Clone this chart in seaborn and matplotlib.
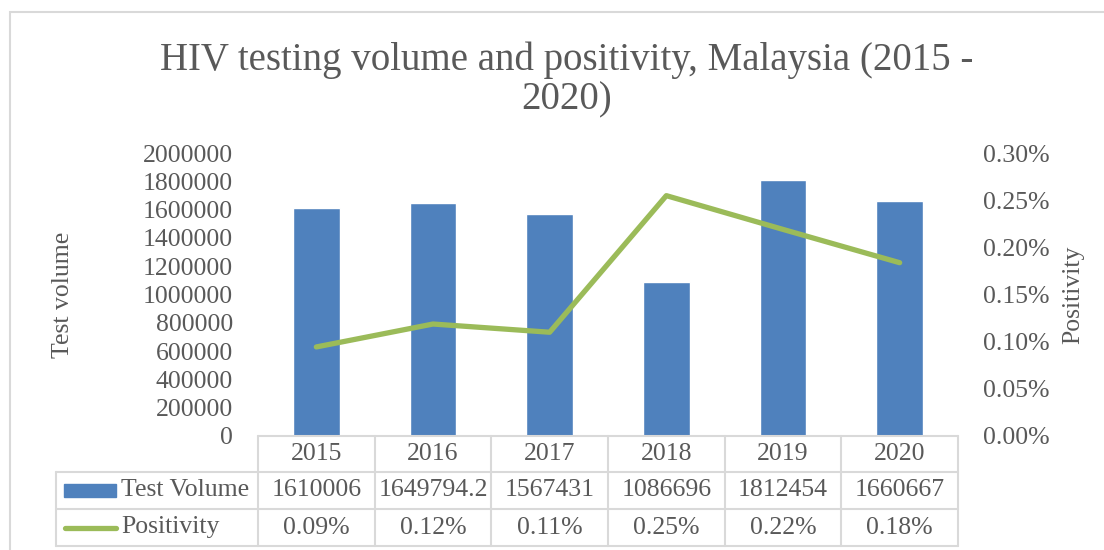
import numpy as np
import matplotlib.pyplot as plt
import matplotlib.transforms as mtransforms
from matplotlib.patches import Rectangle
from matplotlib.lines import Line2D
from matplotlib.ticker import FuncFormatter
import seaborn as sns

# dane
lata = ['2015', '2016', '2017', '2018', '2019', '2020']
test_volume = [1610006, 1649794.2, 1567431, 1086696, 1812454, 1660667]
positivity = [0.000944, 0.001187, 0.001100, 0.002548, 0.002190, 0.001837]

kolor_slupki = '#4F81BD'
kolor_linia = '#9BBB59'
kolor_tekst = '#595959'
kolor_siatka = '#D9D9D9'
fs = 18.5

sns.set_style('white')
plt.rcParams['font.family'] = ['Liberation Serif', 'DejaVu Serif']

W, H = 1104, 550
fig = plt.figure(figsize=(W / 100, H / 100), dpi=100)

def fx(px):
    return px / W

def fy(py):
    return 1 - py / H

ax = fig.add_axes([fx(258), fy(436), fx(958) - fx(258), fy(153) - fy(436)])

# slupki
sns.barplot(x=lata, y=test_volume, color=kolor_slupki, width=0.4, saturation=1, ax=ax)
ax.set_xlim(-0.5, len(lata) - 0.5)
ax.set_ylim(0, 2000000)
ax.set_yticks(np.arange(0, 2000001, 200000))
ax.yaxis.set_major_formatter(FuncFormatter(lambda v, p: f'{int(v)}'))
ax.tick_params(axis='y', length=0, pad=18, labelsize=fs, labelcolor=kolor_tekst)
ax.set_xticks([])
ax.set_xlabel('')
ax.set_ylabel('')
for s in ax.spines.values():
    s.set_visible(False)

# linia
ax2 = ax.twinx()
sns.lineplot(x=np.arange(len(lata)), y=positivity, color=kolor_linia, linewidth=3.8,
             solid_capstyle='round', ax=ax2)
ax2.set_ylim(0, 0.003)
ax2.set_yticks(np.arange(0, 0.00301, 0.0005))
ax2.yaxis.set_major_formatter(FuncFormatter(lambda v, p: f'{v:.2%}'))
ax2.tick_params(axis='y', length=0, pad=18, labelsize=fs, labelcolor=kolor_tekst)
ax2.set_ylabel('')
for s in ax2.spines.values():
    s.set_visible(False)
ax.set_xlim(-0.5, len(lata) - 0.5)

# tytul i opisy osi
fig.text(fx(567), fy(60), 'HIV testing volume and positivity, Malaysia (2015 -',
         ha='center', va='center', fontsize=28, color=kolor_tekst)
fig.text(fx(567), fy(100), '2020)', ha='center', va='center', fontsize=28, color=kolor_tekst)
fig.text(fx(63), fy(295), 'Test volume', rotation=90, ha='center', va='center',
         fontsize=fs, color=kolor_tekst)
fig.text(fx(1073), fy(295), 'Positivity', rotation=90, ha='center', va='center',
         fontsize=fs, color=kolor_tekst)

# ramka wykresu
fig.patches.append(Rectangle((fx(10), fy(560)), fx(1110), fy(12) - fy(560),
                             transform=fig.transFigure, fill=False,
                             edgecolor=kolor_siatka, linewidth=1.5))

# tabela danych
tr = mtransforms.blended_transform_factory(ax.transData, fig.transFigure)
wiersze = [436, 472, 509, 546]
n = len(lata)
lw = 1.5
# linie poziome
fig.add_artist(Line2D([-0.5, n - 0.5], [fy(wiersze[0])] * 2, transform=tr, color=kolor_siatka, lw=lw))
for yy in wiersze[1:]:
    fig.add_artist(Line2D([fx(56), fx(958)], [fy(yy)] * 2, transform=fig.transFigure,
                          color=kolor_siatka, lw=lw))
# linie pionowe
for i in range(n + 1):
    fig.add_artist(Line2D([i - 0.5, i - 0.5], [fy(wiersze[0]), fy(wiersze[3])], transform=tr,
                          color=kolor_siatka, lw=lw))
fig.add_artist(Line2D([fx(56), fx(56)], [fy(wiersze[1]), fy(wiersze[3])],
                      transform=fig.transFigure, color=kolor_siatka, lw=lw))

srodki = [(wiersze[k] + wiersze[k + 1]) / 2 for k in range(3)]
for i, rok in enumerate(lata):
    fig.text(i, fy(srodki[0]), rok, transform=tr, ha='center', va='center',
             fontsize=fs, color=kolor_tekst)
    fig.text(i, fy(srodki[1]), f'{test_volume[i]:.10g}', transform=tr, ha='center',
             va='center', fontsize=fs, color=kolor_tekst)
    fig.text(i, fy(srodki[2]), f'{positivity[i]:.2%}', transform=tr, ha='center',
             va='center', fontsize=fs, color=kolor_tekst)

# legenda w tabeli
fig.patches.append(Rectangle((fx(64), fy(497)), fx(116) - fx(64), fy(484) - fy(497),
                             transform=fig.transFigure, color=kolor_slupki))
fig.add_artist(Line2D([fx(65), fx(116)], [fy(srodki[2])] * 2, transform=fig.transFigure,
                      color=kolor_linia, lw=3.8, solid_capstyle='round'))
fig.text(fx(121), fy(srodki[1]), 'Test Volume', ha='left', va='center', fontsize=fs,
         color=kolor_tekst)
fig.text(fx(121), fy(srodki[2]), 'Positivity', ha='left', va='center', fontsize=fs,
         color=kolor_tekst)

plt.savefig('out.png', dpi=100)
